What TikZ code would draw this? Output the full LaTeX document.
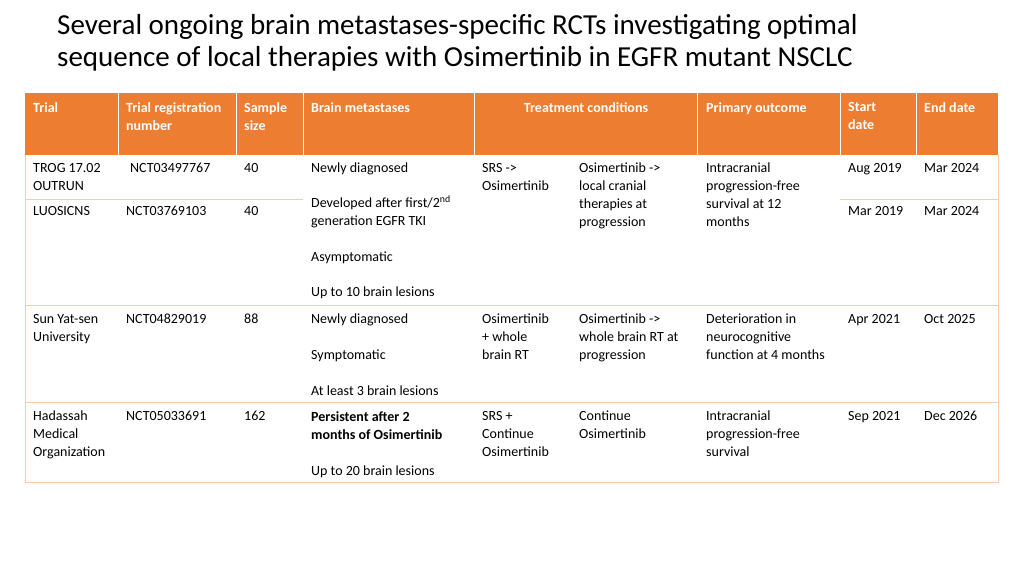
\documentclass[tikz,border=0pt]{standalone}
\usepackage{fontspec}
\setmainfont{Carlito}
\definecolor{hdrorange}{HTML}{ED7D31}
\definecolor{gridorange}{HTML}{F8CBAD}
\tikzset{
  cell/.style={anchor=north west,inner sep=0pt,align=left,font=\fontsize{14}{18}\selectfont},
  hcell/.style={cell,text=white,font=\fontsize{14}{18}\selectfont\bfseries},
  grid/.style={gridorange,line width=0.8pt},
}
\begin{document}
\begin{tikzpicture}[x=1pt,y=-1pt]
  \useasboundingbox (0,0) rectangle (1024,576);

  % title
  \node[anchor=north west,inner sep=0pt,align=left,font=\fontsize{29}{32}\selectfont] (title) at (57,14)
    {Several ongoing brain metastases-specific RCTs investigating optimal\\sequence of local therapies with Osimertinib in EGFR mutant NSCLC};

  % header
  \fill[hdrorange] (25,93) rectangle (998,155);
  \foreach \x in {118,236,303,474,697,840,916}
    \draw[white,line width=1pt] (\x,93) -- (\x,155);

  % grid
  \draw[grid] (25,155) -- (25,482) -- (998,482) -- (998,155);
  \draw[grid] (25,199) -- (303,199);
  \draw[grid] (840,199) -- (998,199);
  \draw[grid] (25,305) -- (998,305);
  \draw[grid] (25,402) -- (998,402);

  % header texts
  \node[hcell] (hTrial) at (33,102) {Trial};
  \node[hcell] (hReg) at (126,102) {Trial registration\\number};
  \node[hcell] (hSize) at (244,102) {Sample\\size};
  \node[hcell] (hBrain) at (311,102) {Brain metastases};
  \node[hcell,anchor=north] (hTreat) at (586,102) {Treatment conditions};
  \node[hcell] (hOut) at (706,102) {Primary outcome};
  \node[hcell] (hStart) at (848,102) {Start\\date};
  \node[hcell] (hEnd) at (924,102) {End date};

  % TROG / LUOSICNS
  \node[cell] (aTrial) at (33,163) {TROG 17.02\\OUTRUN};
  \node[cell] (aReg) at (130,163) {NCT03497767};
  \node[cell] (aSize) at (244,163) {40};
  \node[cell] (bTrial) at (33,206) {LUOSICNS};
  \node[cell] (bReg) at (126,206) {NCT03769103};
  \node[cell] (bSize) at (244,206) {40};
  \node[cell] (abBrain) at (311,163) {Newly diagnosed\\[17pt]Developed after first/2\textsuperscript{nd}\\generation EGFR TKI\\[18pt]Asymptomatic\\[17pt]Up to 10 brain lesions};
  \node[cell] (abArmA) at (482,163) {SRS ->\\Osimertinib};
  \node[cell] (abArmB) at (579,163) {Osimertinib ->\\local cranial\\therapies at\\progression};
  \node[cell] (abOut) at (706,163) {Intracranial\\progression-free\\survival at 12\\months};
  \node[cell] (aStart) at (848,163) {Aug 2019};
  \node[cell] (aEnd) at (924,163) {Mar 2024};
  \node[cell] (bStart) at (848,206) {Mar 2019};
  \node[cell] (bEnd) at (924,206) {Mar 2024};

  % Sun Yat-sen
  \node[cell] (cTrial) at (33,314) {Sun Yat-sen\\University};
  \node[cell] (cReg) at (126,314) {NCT04829019};
  \node[cell] (cSize) at (244,314) {88};
  \node[cell] (cBrain) at (311,314) {Newly diagnosed\\[18pt]Symptomatic\\[18pt]At least 3 brain lesions};
  \node[cell] (cArmA) at (482,314) {Osimertinib\\+ whole\\brain RT};
  \node[cell] (cArmB) at (579,314) {Osimertinib ->\\whole brain RT at\\progression};
  \node[cell] (cOut) at (706,314) {Deterioration in\\neurocognitive\\function at 4 months};
  \node[cell] (cStart) at (848,314) {Apr 2021};
  \node[cell] (cEnd) at (924,314) {Oct 2025};

  % Hadassah
  \node[cell] (dTrial) at (33,411) {Hadassah\\Medical\\Organization};
  \node[cell] (dReg) at (126,411) {NCT05033691};
  \node[cell] (dSize) at (244,411) {162};
  \node[cell] (dBrain) at (311,411) {\textbf{Persistent after 2}\\\textbf{months of Osimertinib}\\[18pt]Up to 20 brain lesions};
  \node[cell] (dArmA) at (482,411) {SRS +\\Continue\\Osimertinib};
  \node[cell] (dArmB) at (579,411) {Continue\\Osimertinib};
  \node[cell] (dOut) at (706,411) {Intracranial\\progression-free\\survival};
  \node[cell] (dStart) at (848,411) {Sep 2021};
  \node[cell] (dEnd) at (924,411) {Dec 2026};
\end{tikzpicture}
\end{document}
